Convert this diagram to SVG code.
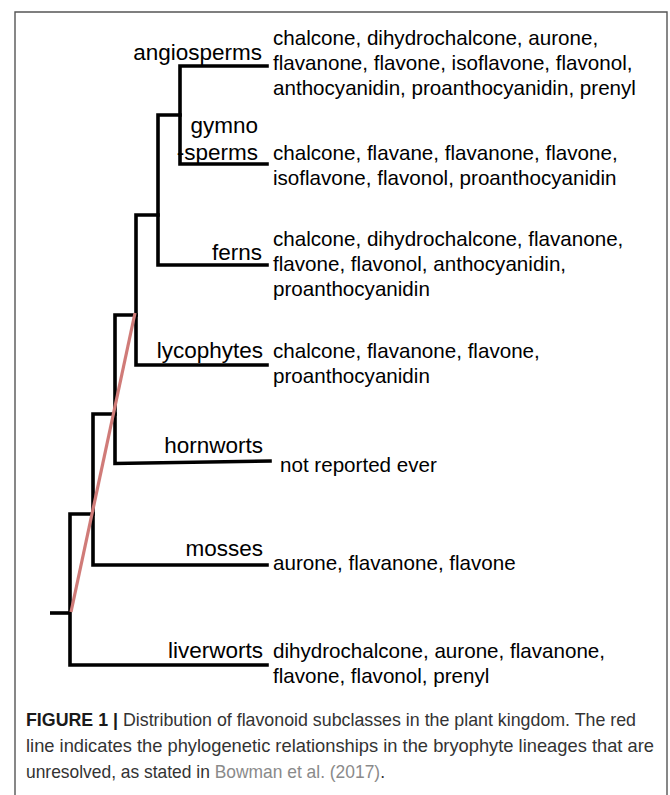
<svg xmlns="http://www.w3.org/2000/svg" width="670" height="795" viewBox="0 0 670 795">
<style>
.br{fill:none;stroke:#000;stroke-width:3.6;stroke-linejoin:miter;stroke-linecap:square}
.lab{font-family:"Liberation Sans",Arial,sans-serif;font-size:22.5px;fill:#000;text-anchor:end}
.lst{font-family:"Liberation Sans",Arial,sans-serif;font-size:20.6px;fill:#000}
.cap{font-family:"Liberation Sans",Arial,sans-serif;font-size:18.2px;fill:#333}
.b{font-weight:bold;fill:#1a1a1a}
.ref{fill:#8a8a8a}
</style>
<rect width="670" height="795" fill="#fff"/>
<path d="M15,795 V12 H667 V795" fill="none" stroke="#555" stroke-width="1.4"/>
<g id="connectors">
<polyline class="br" points="267,66 180,66 180,164 267,164"/>
<polyline class="br" points="180,115 158,115 158,265 267,265"/>
<polyline class="br" points="158,215 136,215 136,365 267,365"/>
<polyline class="br" points="136,315 115,315 115,463.5 270,461"/>
<polyline class="br" points="115,414 93,414 93,565 267,565"/>
<polyline class="br" points="93,514 70,514 70,665 267,665"/>
<line class="br" x1="50" y1="613" x2="70" y2="613" style="stroke-linecap:butt"/>
<line x1="71" y1="612" x2="135" y2="313" stroke="#d07b78" stroke-width="3.2"/>
</g>
<g id="angiosperms">
<text class="lab" x="262" y="60">angiosperms</text>
<text class="lst" x="273" y="45">chalcone, dihydrochalcone, aurone,</text>
<text class="lst" x="273" y="70">flavanone, flavone, isoflavone, flavonol,</text>
<text class="lst" x="273" y="95">anthocyanidin, proanthocyanidin, prenyl</text>
</g>
<g id="gymnosperms">
<text class="lab" x="258" y="133">gymno</text>
<text class="lab" x="258" y="160">-sperms</text>
<text class="lst" x="273" y="160">chalcone, flavane, flavanone, flavone,</text>
<text class="lst" x="273" y="185">isoflavone, flavonol, proanthocyanidin</text>
</g>
<g id="ferns">
<text class="lab" x="262" y="260">ferns</text>
<text class="lst" x="273" y="246">chalcone, dihydrochalcone, flavanone,</text>
<text class="lst" x="273" y="271">flavone, flavonol, anthocyanidin,</text>
<text class="lst" x="273" y="296">proanthocyanidin</text>
</g>
<g id="lycophytes">
<text class="lab" x="263" y="358">lycophytes</text>
<text class="lst" x="273" y="358">chalcone, flavanone, flavone,</text>
<text class="lst" x="273" y="383">proanthocyanidin</text>
</g>
<g id="hornworts">
<text class="lab" x="263" y="453">hornworts</text>
<text class="lst" x="280" y="472">not reported ever</text>
</g>
<g id="mosses">
<text class="lab" x="263" y="556">mosses</text>
<text class="lst" x="273" y="570">aurone, flavanone, flavone</text>
</g>
<g id="liverworts">
<text class="lab" x="263" y="658">liverworts</text>
<text class="lst" x="273" y="658">dihydrochalcone, aurone, flavanone,</text>
<text class="lst" x="273" y="683">flavone, flavonol, prenyl</text>
</g>
<g id="caption">
<text class="cap" x="26" y="726" textLength="610" lengthAdjust="spacingAndGlyphs"><tspan class="b">FIGURE 1 |</tspan> Distribution of flavonoid subclasses in the plant kingdom. The red</text>
<text class="cap" x="26" y="752" textLength="628" lengthAdjust="spacingAndGlyphs">line indicates the phylogenetic relationships in the bryophyte lineages that are</text>
<text class="cap" x="26" y="778" textLength="359" lengthAdjust="spacingAndGlyphs">unresolved, as stated in <tspan class="ref">Bowman et al. (2017)</tspan>.</text>
</g>
</svg>
